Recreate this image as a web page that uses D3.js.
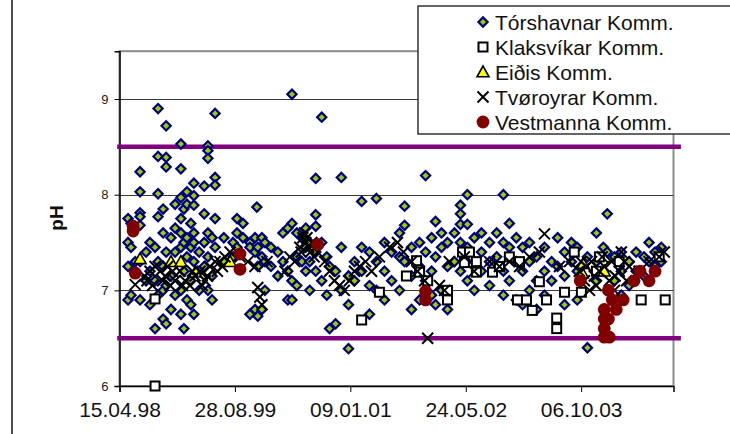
<!DOCTYPE html>
<html>
<head>
<meta charset="utf-8">
<script src="https://cdn.jsdelivr.net/npm/d3@7"></script>
<style>
  html, body { margin: 0; padding: 0; background: #fff; }
  svg { display: block; font-family: Arial, "Liberation Sans", sans-serif; }
</style>
</head>
<body>
<svg id="chart" width="730" height="434"></svg>
<script>
// pH measurements of drinking water per municipality: [sampling date, pH]
const torshavnar = [
  ["1998-05-22",7.75],["1998-05-22",7.5],["1998-05-22",7.25],["1998-05-22",6.9],
  ["1998-06-04",7.7],["1998-06-04",7.45],["1998-06-04",6.95],
  ["1998-06-22",7.3],["1998-06-22",7.2],
  ["1998-07-13",8.24],["1998-07-13",8.03],["1998-07-13",7.81],["1998-07-13",7.77],["1998-07-13",7.68],["1998-07-13",7.3],["1998-07-13",6.9],
  ["1998-08-08",7.1],["1998-08-08",7.4],
  ["1998-08-25",7.5],["1998-08-25",7.2],["1998-08-25",6.85],
  ["1998-09-16",7.45],["1998-09-16",7.1],["1998-09-16",6.6],
  ["1998-09-29",8.9],["1998-09-29",8.4],["1998-09-29",8.01],["1998-09-29",7.77],["1998-09-29",7.3],["1998-09-29",6.95],
  ["1998-10-21",7.85],["1998-10-21",7.6],["1998-10-21",7.25],["1998-10-21",7.0],["1998-10-21",6.7],
  ["1998-11-03",8.72],["1998-11-03",8.39],["1998-11-03",8.29],["1998-11-03",7.4],["1998-11-03",7.05],["1998-11-03",6.65],
  ["1998-11-24",7.55],["1998-11-24",7.15],["1998-11-24",6.8],
  ["1998-12-12",7.9],["1998-12-12",7.65],["1998-12-12",7.4],["1998-12-12",6.95],
  ["1999-01-06",8.53],["1999-01-06",8.27],["1999-01-06",7.97],["1999-01-06",7.75],["1999-01-06",7.6],["1999-01-06",7.45],["1999-01-06",7.0],["1999-01-06",6.75],
  ["1999-01-19",7.85],["1999-01-19",7.5],["1999-01-19",7.2],["1999-01-19",6.6],
  ["1999-02-01",8.03],["1999-02-01",7.9],["1999-02-01",7.55],["1999-02-01",7.35],["1999-02-01",6.9],
  ["1999-02-18",7.7],["1999-02-18",7.45],["1999-02-18",7.1],["1999-02-18",6.85],
  ["1999-03-03",8.12],["1999-03-03",7.99],["1999-03-03",7.89],["1999-03-03",7.6],["1999-03-03",7.5],["1999-03-03",7.3],["1999-03-03",6.75],
  ["1999-03-26",7.4],["1999-03-26",7.2],["1999-03-26",7.0],
  ["1999-04-17",8.09],["1999-04-17",7.8],["1999-04-17",7.5],["1999-04-17",7.25],
  ["1999-05-03",8.51],["1999-05-03",8.46],["1999-05-03",8.38],["1999-05-03",7.6],["1999-05-03",7.35],["1999-05-03",7.0],
  ["1999-05-21",7.55],["1999-05-21",7.15],["1999-05-21",6.9],
  ["1999-06-03",8.85],["1999-06-03",8.18],["1999-06-03",8.1],["1999-06-03",7.75],["1999-06-03",7.45],
  ["1999-07-11",7.3],["1999-07-11",7.55],
  ["1999-08-20",7.5],["1999-08-20",7.35],
  ["1999-09-06",7.75],["1999-09-06",7.6],["1999-09-06",7.45],
  ["1999-10-02",7.7],["1999-10-02",7.55],
  ["1999-11-01",7.5],["1999-11-01",7.45],["1999-11-01",6.75],
  ["1999-11-23",7.55],["1999-11-23",7.4],["1999-11-23",6.8],
  ["1999-12-01",7.87],
  ["1999-12-05",7.45],["1999-12-05",7.25],["1999-12-05",6.73],
  ["1999-12-23",7.55],["1999-12-23",7.35],["1999-12-23",6.8],
  ["2000-01-05",7.5],["2000-01-05",7.3],["2000-01-05",7.0],
  ["2000-01-31",7.45],["2000-01-31",7.25],
  ["2000-03-01",7.4],["2000-03-01",7.15],
  ["2000-03-23",7.3],["2000-03-23",7.6],
  ["2000-04-13",7.65],["2000-04-13",7.2],["2000-04-13",6.9],
  ["2000-05-01",9.05],["2000-05-01",7.7],["2000-05-01",7.1],["2000-05-01",6.9],
  ["2000-05-22",7.6],["2000-05-22",7.35],["2000-05-22",7.05],
  ["2000-06-13",7.55],["2000-06-13",7.3],
  ["2000-06-30",7.65],["2000-06-30",7.45],["2000-06-30",7.2],
  ["2000-07-17",7.5],["2000-07-17",7.3],["2000-07-17",7.0],
  ["2000-08-12",8.17],["2000-08-12",7.79],["2000-08-12",7.67],["2000-08-12",7.4],["2000-08-12",7.2],
  ["2000-09-07",8.81],["2000-09-07",7.5],["2000-09-07",7.1],
  ["2000-09-29",7.35],["2000-09-29",6.95],
  ["2000-10-11",7.25],["2000-10-11",6.6],
  ["2000-11-06",7.2],["2000-11-06",6.65],
  ["2000-12-01",8.18],["2000-12-01",7.45],["2000-12-01",7.0],
  ["2001-01-01",6.39],["2001-01-01",7.15],["2001-01-01",6.85],
  ["2001-01-27",7.3],["2001-01-27",7.1],
  ["2001-02-27",7.93],["2001-02-27",7.45],["2001-02-27",7.2],
  ["2001-04-02",7.4],["2001-04-02",7.05],["2001-04-02",6.75],
  ["2001-05-02",7.96],["2001-05-02",7.3],["2001-05-02",7.0],
  ["2001-06-06",7.5],["2001-06-06",7.2],["2001-06-06",6.9],
  ["2001-07-07",7.4],["2001-07-07",7.1],
  ["2001-08-10",7.6],["2001-08-10",7.35],["2001-08-10",7.0],
  ["2001-09-01",7.88],["2001-09-01",7.68],["2001-09-01",7.3],
  ["2001-10-01",7.45],["2001-10-01",7.15],["2001-10-01",6.8],
  ["2001-11-05",7.5],["2001-11-05",7.25],["2001-11-05",6.9],
  ["2001-12-01",8.2],["2001-12-01",7.4],["2001-12-01",7.1],
  ["2001-12-27",7.55],["2001-12-27",7.2],["2001-12-27",6.95],
  ["2002-01-13",7.72],["2002-01-13",7.35],["2002-01-13",6.85],
  ["2002-02-08",7.6],["2002-02-08",7.45],["2002-02-08",7.0],
  ["2002-03-06",7.5],["2002-03-06",7.25],["2002-03-06",6.8],
  ["2002-04-05",7.6],["2002-04-05",7.3],
  ["2002-05-01",7.89],["2002-05-01",7.8],["2002-05-01",7.69],["2002-05-01",7.5],["2002-05-01",7.2],
  ["2002-05-31",8.0],["2002-05-31",7.69],["2002-05-31",7.45],["2002-05-31",7.1],
  ["2002-06-30",7.55],["2002-06-30",7.3],["2002-06-30",7.0],
  ["2002-07-31",7.6],["2002-07-31",7.4],["2002-07-31",7.2],
  ["2002-09-04",7.5],["2002-09-04",7.3],["2002-09-04",7.05],
  ["2002-10-05",7.6],["2002-10-05",7.35],
  ["2002-11-03",8.0],["2002-11-03",7.5],["2002-11-03",7.2],["2002-11-03",6.95],
  ["2002-11-29",7.7],["2002-11-29",7.45],["2002-11-29",7.1],
  ["2002-12-29",7.55],["2002-12-29",7.3],["2002-12-29",6.9],
  ["2003-01-25",7.45],["2003-01-25",7.2],["2003-01-25",6.85],
  ["2003-02-24",7.5],["2003-02-24",7.3],["2003-02-24",7.0],
  ["2003-03-27",7.35],["2003-03-27",7.1],["2003-03-27",6.8],
  ["2003-04-30",7.45],["2003-04-30",7.2],["2003-04-30",6.95],
  ["2003-05-31",7.3],["2003-05-31",7.1],
  ["2003-06-26",7.55],["2003-06-26",7.25],
  ["2003-07-26",7.4],["2003-07-26",7.15],["2003-07-26",6.85],
  ["2003-08-25",7.5],["2003-08-25",7.3],
  ["2003-09-19",7.45],["2003-09-19",7.2],["2003-09-19",6.9],
  ["2003-11-02",7.35],["2003-11-02",6.4],
  ["2003-12-11",7.6],["2003-12-11",7.3],["2003-12-11",7.1],
  ["2004-01-10",7.45],["2004-01-10",7.2],
  ["2004-01-27",7.8],["2004-01-27",7.4],
  ["2004-02-27",7.35],["2004-02-27",7.1],
  ["2004-03-28",7.4],["2004-03-28",7.2],["2004-03-28",6.95],
  ["2004-05-01",7.3],["2004-05-01",7.05],
  ["2004-05-31",7.4],["2004-05-31",7.2],
  ["2004-07-04",7.35],["2004-07-04",7.15],
  ["2004-07-26",7.5],["2004-07-26",7.3],
  ["2004-08-21",7.4],["2004-08-21",7.25],
  ["2004-09-17",7.45],["2004-09-17",7.3]
];

const klaksvikar = [
  ["1998-09-16",6.0],["1998-09-16",6.91],
  ["2001-02-27",6.69],["2001-05-15",6.98],["2001-09-09",7.15],["2001-10-23",7.31],
  ["2001-11-05",7.19],["2001-12-10",7.1],["2002-03-06",7.0],["2002-03-06",6.9],
  ["2002-05-10",7.4],["2002-06-09",7.4],["2002-05-18",7.29],["2002-07-09",7.3],["2002-07-09",7.19],
  ["2002-09-17",7.19],["2002-10-17",7.25],["2002-11-29",7.35],["2003-01-12",7.3],
  ["2003-01-03",6.9],["2003-02-11",6.9],["2003-03-08",6.79],["2003-05-09",6.9],["2003-04-08",7.09],
  ["2003-07-26",6.98],["2003-10-07",6.98],["2003-09-06",7.4],["2003-06-22",6.71],["2003-06-22",6.6],
  ["2003-12-24",7.35],["2003-12-11",7.2],["2004-03-19",7.3],["2004-06-22",6.9],
  ["2004-09-08",7.35],["2004-10-04",6.9]
];

const eidis = [
  ["1998-07-13",7.33],["1998-11-24",7.3],["1999-01-06",7.3],["1999-03-10",7.19],
  ["1999-08-07",7.3],["2003-10-15",7.28],["2003-10-11",7.18],["2004-01-14",7.2]
];

const tvoroyrar = [
  ["1998-06-22",7.06],["1998-08-12",7.1],["1998-08-25",7.2],["1998-09-16",7.25],["1998-10-08",7.2],
  ["1998-10-30",7.15],["1998-11-20",7.05],["1998-12-12",7.1],["1999-01-02",7.2],["1999-01-24",7.1],
  ["1999-02-14",7.05],["1999-03-08",7.15],["1999-03-30",7.2],["1999-04-21",7.1],["1999-05-12",7.25],
  ["1999-06-03",7.3],["1999-06-24",7.3],["1999-07-16",7.35],["1999-08-07",7.4],["1999-09-19",7.35],
  ["1998-08-01",7.15],["1998-09-05",7.05],["1998-10-19",7.1],["1998-11-10",7.25],["1998-12-01",7.2],
  ["1999-01-13",7.05],["1999-02-25",7.2],["1999-04-08",7.05],["1999-05-01",7.15],["1999-06-13",7.2],
  ["1999-07-05",7.25],
  ["1999-10-23",7.3],["1999-11-23",7.25],["1999-12-05",7.03],["1999-12-14",6.93],["1999-12-23",6.85],
  ["2000-01-14",7.3],["2000-04-01",7.2],["2000-04-22",7.35],["2000-05-13",7.3],["2000-06-04",7.45],
  ["2000-06-17",7.55],["2000-06-30",7.5],["2000-07-13",7.45],["2000-07-26",7.5],["2000-08-20",7.4],
  ["2000-06-10",7.4],["2000-06-24",7.6],["2000-07-05",7.55],["2000-07-20",7.4],["2000-08-05",7.35],
  ["2000-09-20",7.3],["2000-10-11",7.2],["2000-11-01",7.1],["2000-11-23",7.05],["2000-12-14",7.0],
  ["2001-01-05",7.1],["2001-01-27",7.2],["2001-02-18",7.25],["2001-03-16",7.3],["2001-04-11",7.2],
  ["2001-05-15",7.35],["2001-06-28",7.45],["2001-08-01",7.5],["2001-08-27",7.4],["2001-10-01",7.3],
  ["2001-10-27",7.2],["2001-11-27",7.1],["2001-12-10",6.5],["2002-01-30",7.05],["2002-02-21",7.0],
  ["2002-03-14",7.3],["2002-05-18",7.35],["2002-06-30",7.2],["2002-09-04",7.3],["2002-10-17",7.25],
  ["2002-11-29",7.3],["2003-01-12",7.25],["2003-02-24",7.35],["2003-04-08",7.4],["2003-04-30",7.59],
  ["2003-07-04",7.25],["2003-08-16",7.3],["2003-09-28",7.2],["2003-10-20",7.1],["2003-11-11",7.0],
  ["2003-12-02",7.15],["2003-12-24",7.2],["2004-01-14",7.25],["2004-02-05",7.1],["2004-02-27",7.0],
  ["2003-10-05",7.3],["2003-10-28",7.25],["2003-11-20",7.3],["2003-12-10",7.05],["2004-01-05",7.35],
  ["2004-02-15",7.3],["2004-03-01",7.15],["2004-03-28",7.4],["2004-04-20",7.1],
  ["2004-03-19",7.2],["2004-04-10",7.3],["2004-05-01",7.25],["2004-06-13",7.2],["2004-07-26",7.3],
  ["2004-09-08",7.35],["2004-09-30",7.4]
];

const vestmanna = [
  ["1998-06-13",7.67],["1998-06-13",7.62],["1998-06-22",7.18],
  ["1999-09-19",7.38],["1999-09-19",7.22],["2000-08-20",7.48],
  ["2001-12-01",6.99],["2001-12-01",6.9],
  ["2003-10-02",7.1],["2004-01-14",6.8],["2004-01-14",6.7],["2004-01-14",6.6],["2004-01-14",6.51],
  ["2004-02-05",6.51],["2004-02-01",7.0],["2004-02-01",6.7],["2004-02-18",6.9],["2004-03-06",6.8],
  ["2004-04-05",6.9],["2004-05-22",7.1],["2004-06-17",7.2],["2004-07-26",7.1],["2004-08-21",7.2]
];

// recommended pH range, drawn as two horizontal limit lines
const limitDates = ["1998-04-05", "2004-12-11"];
const limitUpper = [8.5, 8.5];
const limitLower = [6.5, 6.5];

const xTickLabels = ["15.04.98", "28.08.99", "09.01.01", "24.05.02", "06.10.03"];
const yTicks = [6, 7, 8, 9];
const seriesNames = ["Tórshavnar Komm.", "Klaksvíkar Komm.", "Eiðis Komm.", "Tvøroyrar Komm.", "Vestmanna Komm."];

const parseIso = d3.utcParse("%Y-%m-%d");
const parseTick = d3.utcParse("%d.%m.%y");
const fmtTick = d3.utcFormat("%d.%m.%y");

const svg = d3.select("#chart");
const plot = { left: 119.5, right: 673.5, top: 51.2, bottom: 386 };

const x = d3.scaleUtc()
  .domain([parseIso("1998-04-15"), parseIso("2004-11-09")])
  .range([plot.left, plot.right]);
const y = d3.scaleLinear().domain([6, 9.5]).range([plot.bottom, plot.top]);

// outer chart frame (left edge visible)
svg.append("line").attr("x1", 12).attr("x2", 12).attr("y1", -2).attr("y2", 440)
  .attr("stroke", "#222").attr("stroke-width", 1.6);

// plot area border
svg.append("rect")
  .attr("x", plot.left).attr("y", plot.top)
  .attr("width", plot.right - plot.left).attr("height", plot.bottom - plot.top)
  .attr("fill", "none").attr("stroke", "#8c8c8c").attr("stroke-width", 2);

// horizontal gridlines
svg.append("g").selectAll("line").data(yTicks.filter(t => t > 6)).join("line")
  .attr("x1", plot.left).attr("x2", plot.right)
  .attr("y1", d => Math.round(y(d)) + 0.5).attr("y2", d => Math.round(y(d)) + 0.5)
  .attr("stroke", "#3a3a3a").attr("stroke-width", 1);

// y axis
const yAxis = svg.append("g").attr("transform", `translate(${plot.left},0)`)
  .call(d3.axisLeft(y).tickValues(yTicks).tickSize(5).tickPadding(6).tickFormat(d3.format("d")));
yAxis.select(".domain").attr("stroke", "#000").attr("stroke-width", 1.5);
yAxis.selectAll(".tick line").attr("stroke", "#000");
yAxis.selectAll(".tick text").attr("font-size", 13).attr("fill", "#222")
  .attr("font-family", "Arial, 'Liberation Sans', sans-serif");

// x axis
const xAxis = svg.append("g").attr("transform", `translate(0,${plot.bottom})`)
  .call(d3.axisBottom(x).tickValues(xTickLabels.map(parseTick)).tickSize(6).tickPadding(10).tickFormat(fmtTick));
xAxis.select(".domain").attr("stroke", "#000").attr("stroke-width", 1.5);
xAxis.selectAll(".tick line").attr("stroke", "#000");
xAxis.selectAll(".tick text").attr("font-size", 21).attr("fill", "#111")
  .attr("font-family", "Arial, 'Liberation Sans', sans-serif");

// axis title
svg.append("text").attr("transform", "translate(63,218) rotate(-90)")
  .attr("text-anchor", "middle").attr("font-size", 19).attr("font-weight", "bold")
  .attr("fill", "#111").text("pH");

// limit lines
const limitLine = d3.line().x(d => x(parseIso(d[0]))).y(d => y(d[1]));
[limitUpper, limitLower].forEach(vals => {
  svg.append("path").datum(limitDates.map((d, i) => [d, vals[i]]))
    .attr("d", limitLine).attr("fill", "none")
    .attr("stroke", "#800080").attr("stroke-width", 4.5);
});

// marker shapes
const markers = {
  diamond: g => g.append("path").attr("d", "M0,-4.6L4.6,0L0,4.6L-4.6,0Z")
    .attr("fill", "#99cc00").attr("stroke", "#000080").attr("stroke-width", 2.2),
  square: g => g.append("rect").attr("x", -4.5).attr("y", -4.5).attr("width", 9).attr("height", 9)
    .attr("fill", "#fff").attr("stroke", "#000").attr("stroke-width", 2),
  triangle: g => g.append("path").attr("d", "M0,-6L6,4.8L-6,4.8Z")
    .attr("fill", "#ffff00").attr("stroke", "#000").attr("stroke-width", 1.6),
  cross: g => g.append("path").attr("d", "M-5.5,-5.5L5.5,5.5M5.5,-5.5L-5.5,5.5")
    .attr("fill", "none").attr("stroke", "#000").attr("stroke-width", 2),
  circle: g => g.append("circle").attr("r", 6.4).attr("fill", "#800000")
};

const series = [
  { data: torshavnar, shape: "diamond" },
  { data: klaksvikar, shape: "square" },
  { data: eidis, shape: "triangle" },
  { data: tvoroyrar, shape: "cross" },
  { data: vestmanna, shape: "circle" }
];

series.forEach(s => {
  const g = svg.append("g");
  g.selectAll("g").data(s.data).join("g")
    .attr("transform", d => `translate(${x(parseIso(d[0]))},${y(d[1])})`)
    .each(function () { markers[s.shape](d3.select(this)); });
});

// legend
const legend = svg.append("g");
legend.append("rect").attr("x", 418).attr("y", 6).attr("width", 330).attr("height", 128)
  .attr("fill", "#fff").attr("stroke", "#333").attr("stroke-width", 1.5);
series.forEach((s, i) => {
  const cy = 22 + i * 25;
  const m = legend.append("g").attr("transform", `translate(483,${cy})`);
  markers[s.shape](m);
  legend.append("text").attr("x", 495).attr("y", cy + 7.5)
    .attr("font-size", 21).attr("fill", "#111").text(seriesNames[i]);
});
</script>
</body>
</html>
